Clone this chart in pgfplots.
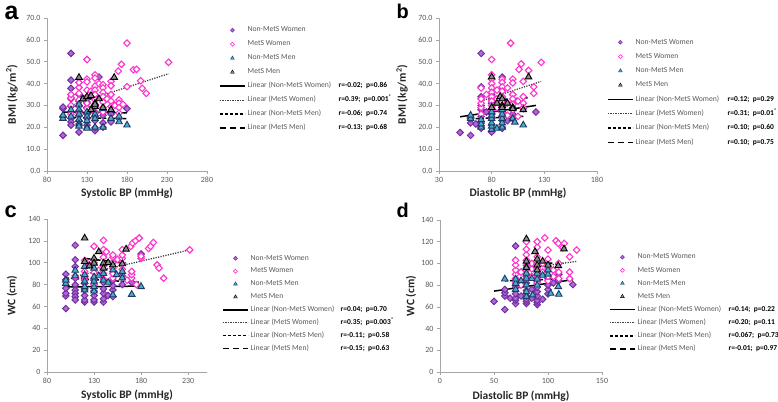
\documentclass[border=0pt]{standalone}
\usepackage{pgfplots}
\pgfplotsset{compat=1.18}
\usepackage{fontspec}
\setmainfont{Carlito}
\newfontfamily\letterfont{Liberation Sans}

\definecolor{nmwfill}{HTML}{B366D9}
\definecolor{nmwdraw}{HTML}{7030A0}
\definecolor{mwdraw}{HTML}{FF33CC}
\definecolor{nmmfill}{HTML}{4BACC6}
\definecolor{nmmdraw}{HTML}{1F3864}
\definecolor{mmfill}{HTML}{8C8C8C}
\definecolor{axgray}{HTML}{A6A6A6}
\definecolor{txtgray}{HTML}{595959}

% legend line text followed by the r / p values
\newcommand\lin[3]{\makebox[#1][l]{#2}{\color{black}\fontsize{7.5}{8}\selectfont\bfseries #3}}

\pgfplotsset{
  panel/.style={
    scale only axis, anchor=south west, clip=false,
    axis x line=bottom, axis y line=left,
    axis line style={draw=axgray, line width=0.7bp, -},
    tick style={draw=axgray, line width=0.7bp},
    tick align=outside, major tick length=3bp,
    ticklabel style={font=\fontsize{8}{9}\selectfont, text=txtgray},
    /pgf/number format/assume math mode=true,
    legend cell align=left,
    legend style={draw=none, fill=none, inner xsep=0pt, inner ysep=0pt,
      anchor=north west, column sep=2bp, font=\fontsize{7.7}{9}\selectfont,
      nodes={inner sep=0pt, text height=5bp, text depth=1.5bp, text=txtgray}},
  },
  xlab/.style={every axis x label/.style={at={(axis description cs:0.5,#1)},
      anchor=center, font=\bfseries\fontsize{11.5}{13}\selectfont, text=black!85}},
  ylab/.style={every axis y label/.style={at={(axis description cs:#1,0.5)},
      rotate=90, anchor=center, font=\bfseries\fontsize{11.5}{13}\selectfont, text=black!85}},
  nmw/.style={only marks, mark=square*, mark size=2.3bp,
    mark options={rotate=45, fill=nmwfill, draw=nmwdraw, line width=1bp},
    legend image code/.code={\draw plot[only marks, mark=square*, mark size=1.4bp,
      mark options={rotate=45, fill=nmwfill, draw=nmwdraw, line width=0.5bp}] coordinates {(12.5bp,0bp)};}},
  mw/.style={only marks, mark=square*, mark size=2.3bp,
    mark options={rotate=45, fill=white, draw=mwdraw, line width=1.1bp},
    legend image code/.code={\draw plot[only marks, mark=square*, mark size=1.4bp,
      mark options={rotate=45, fill=white, draw=mwdraw, line width=0.6bp}] coordinates {(12.5bp,0bp)};}},
  nmm/.style={only marks, mark=triangle*, mark size=3.8bp,
    mark options={fill=nmmfill, draw=nmmdraw, line width=0.9bp},
    legend image code/.code={\draw plot[only marks, mark=triangle*, mark size=2.2bp,
      mark options={fill=nmmfill, draw=nmmdraw, line width=0.4bp}] coordinates {(12.5bp,0bp)};}},
  mm/.style={only marks, mark=triangle*, mark size=3.8bp,
    mark options={fill=mmfill, draw=black, line width=0.9bp},
    legend image code/.code={\draw plot[only marks, mark=triangle*, mark size=2.2bp,
      mark options={fill=mmfill, draw=black, line width=0.4bp}] coordinates {(12.5bp,0bp)};}},
  trend/.style={legend image code/.code={\draw[##1] (0bp,0bp) -- (25bp,0bp);}},
  nmwline/.style={trend, black, line width=1.5bp},
  mwline/.style={trend, black!75, line width=1.3bp, dash pattern=on 1.2bp off 1.3bp},
  nmmline/.style={trend, black, line width=1.5bp, dash pattern=on 3.3bp off 1.7bp},
  mmline/.style={trend, black, line width=1.5bp, dash pattern=on 6bp off 4bp},
}

\begin{document}
\begin{tikzpicture}
\useasboundingbox (0,0) rectangle (778bp,402bp);

\node[anchor=base west, font=\letterfont\bfseries\fontsize{25}{25}\selectfont] at (1bp,382bp) {a};
\node[anchor=base west, font=\letterfont\bfseries\fontsize{20}{20}\selectfont] at (393bp,383bp) {b};
\node[anchor=base west, font=\letterfont\bfseries\fontsize{22}{22}\selectfont] at (1bp,184bp) {c};
\node[anchor=base west, font=\letterfont\bfseries\fontsize{20}{20}\selectfont] at (393bp,184bp) {d};

% ---------------- a: systolic BP vs BMI
\begin{axis}[panel, at={(47bp,231bp)}, width=160bp, height=153bp,
  xmin=80, xmax=280, xtick={80,130,180,230,280},
  ymin=0, ymax=70, ytick={0,10,...,70},
  yticklabel style={/pgf/number format/.cd, fixed, fixed zerofill, precision=1},
  xlab=-0.144, ylab=-0.219,
  xlabel={Systolic BP (mmHg)}, ylabel={BMI (kg/m\textsuperscript{2})},
  legend style={at={(1.075,0.943)}, row sep=7.5bp}]
\addplot[nmw] coordinates {
  (100,16.3) (100,25) (100,28.5) (100,29.2) (110,53.8) (110,41.6) (110,37.8)
  (110,33) (110,29.5) (110,27) (110,24) (110,22.5) (110,21) (120,17.8)
  (120,21.5) (120,23) (120,25.5) (120,27.5) (120,30) (120,32) (120,35)
  (130,21) (130,24) (130,26) (130,29) (130,31.5) (130,33) (140,18.5)
  (140,19.8) (140,23) (140,25) (140,27) (140,30) (145,43) (150,20) (150,22)
  (150,25.5) (150,28) (160,22.5) (160,26) (170,24) (180,28.5)};
\addlegendentry{Non-MetS Women}
\addplot[mw] coordinates {
  (110,26) (110,30) (110,33.5) (110,35) (120,26.5) (120,29.5) (120,32.5)
  (120,35.5) (120,38.2) (120,40.5) (130,51) (130,42) (130,40.8) (130,37)
  (130,34) (130,31) (130,28.5) (135,36.5) (140,44) (140,42.5) (140,38.8)
  (140,37) (140,35) (140,32.5) (140,30.5) (140,26.5) (145,40) (150,39.5)
  (150,38) (150,36) (150,34) (150,31.5) (150,29) (150,27) (155,33) (160,41)
  (160,39) (160,35) (160,32) (160,29.5) (165,30) (170,32.5) (170,31) (170,29)
  (170,26.5) (173,48.8) (169,45.7) (175,30.5) (180,58.5) (180,38.6)
  (188,46.3) (192,46.5) (197,41.3) (199,37.8) (204,35.5) (232,49.7)};
\addlegendentry{MetS Women}
\addplot[nmm] coordinates {
  (100,24) (100,25.5) (110,28) (110,25) (120,30.5) (120,28) (120,26)
  (120,23.5) (120,21.5) (120,20.5) (130,27) (130,25) (130,23) (130,20)
  (130,19.5) (140,26) (140,24) (140,20) (150,28.5) (150,20) (160,28)
  (160,24) (170,25) (170,22.5) (180,21)};
\addlegendentry{Non-MetS Men}
\addplot[mm] coordinates {
  (120,42.8) (164,42.8) (125,33) (130,34) (135,34.5) (140,31) (140,29.5)
  (140,30.5) (150,29) (160,28) (135,28) (145,33)};
\addlegendentry{MetS Men}
\addplot[nmwline] coordinates {(100,27.0) (180,26.6)};
\addlegendentry{\lin{91bp}{Linear (Non-MetS Women)}{r=-0.02;\ \ p=0.86}}
\addplot[mwline] coordinates {(110,30) (232,44.5)};
\addlegendentry{\lin{91bp}{Linear (MetS Women)}{r=0.39;\ \ p=0.001\textsuperscript{*}}}
\addplot[nmmline] coordinates {(100,24.6) (180,23.9)};
\addlegendentry{\lin{91bp}{Linear (Non-MetS Men)}{r=-0.06;\ \ p=0.74}}
\addplot[mmline] coordinates {(120,34) (165,31.5)};
\addlegendentry{\lin{91bp}{Linear (MetS Men)}{r=-0.13;\ \ p=0.68}}
\end{axis}

% ---------------- b: diastolic BP vs BMI
\begin{axis}[panel, at={(439bp,231bp)}, width=158bp, height=153bp,
  xmin=30, xmax=180, xtick={30,80,130,180},
  ymin=0, ymax=70, ytick={0,10,...,70},
  yticklabel style={/pgf/number format/.cd, fixed, fixed zerofill, precision=1},
  xlab=-0.144, ylab=-0.234,
  xlabel={Diastolic BP (mmHg)}, ylabel={BMI (kg/m\textsuperscript{2})},
  legend style={at={(1.063,0.864)}, row sep=7.8bp}]
\addplot[nmw] coordinates {
  (50,17.6) (60,16.3) (60,22) (60,24) (65,21.5) (70,53.8) (70,38.5) (70,34)
  (70,30) (70,28) (70,25) (70,22) (70,20) (70,19.5) (75,27) (80,17.8)
  (80,21) (80,24) (80,26) (80,28.5) (80,31) (80,33) (80,35) (85,32) (90,43)
  (90,38) (90,34) (90,30) (90,27) (90,25) (90,23) (90,20) (90,19.5) (95,23)
  (100,24) (100,26) (100,29) (100,31) (110,28.5) (122,27)};
\addlegendentry{Non-MetS Women}
\addplot[mw] coordinates {
  (70,26) (70,29) (70,31) (70,33) (70,38) (75,35) (80,51) (80,44) (80,42)
  (80,40) (80,38) (80,36) (80,34) (80,32) (80,30) (80,28) (85,37) (85,33)
  (85,29) (90,42) (90,40.5) (90,38.5) (90,36.5) (90,34) (90,31.5) (90,29)
  (90,27) (95,38) (95,31) (95,25.5) (98,58.5) (100,42) (100,40.3) (100,35)
  (100,33) (100,30.5) (100,28) (105,32) (105,25) (106,46.5) (108,49)
  (110,41) (110,34) (110,31) (110,29) (115,46) (120,38.5) (120,35.5)
  (127,49.7)};
\addlegendentry{MetS Women}
\addplot[nmm] coordinates {
  (60,24) (60,25.5) (70,20) (70,21.5) (70,23.5) (80,19) (80,20.5) (80,22)
  (80,24) (80,25.5) (80,27) (80,29) (85,19.5) (90,20) (90,22) (90,24)
  (90,26) (90,28) (100,24) (100,29) (102,22.3) (110,21)};
\addlegendentry{Non-MetS Men}
\addplot[mm] coordinates {
  (80,43) (115,43) (80,29) (85,31) (88,34) (90,33) (90,30) (90,29) (95,31)
  (100,29) (100,28.5) (110,28)};
\addlegendentry{MetS Men}
\addplot[nmwline] coordinates {(50,24.8) (122,30)};
\addlegendentry{\lin{92bp}{Linear (Non-MetS Women)}{r=0.12;\ \ p=0.29}}
\addplot[mwline] coordinates {(70,32) (127,41)};
\addlegendentry{\lin{92bp}{Linear (MetS Women)}{r=0.31;\ \ p=0.01\textsuperscript{*}}}
\addplot[nmmline] coordinates {(60,23.8) (110,25)};
\addlegendentry{\lin{92bp}{Linear (Non-MetS Men)}{r=0.10;\ \ p=0.60}}
\addplot[mmline] coordinates {(80,32.5) (115,33.5)};
\addlegendentry{\lin{92bp}{Linear (MetS Men)}{r=0.10;\ \ p=0.75}}
\end{axis}

% ---------------- c: systolic BP vs WC
\begin{axis}[panel, at={(47bp,30bp)}, width=160bp, height=153bp,
  xmin=80, xmax=250, xtick={80,130,180,230},
  ymin=0, ymax=140, ytick={0,20,...,140},
  xlab=-0.150, ylab=-0.219,
  xlabel={Systolic BP (mmHg)}, ylabel={WC (cm)},
  legend style={at={(1.094,0.766)}, row sep=6.4bp}]
\addplot[nmw] coordinates {
  (100,58) (100,69.6) (100,72) (100,76.6) (100,84.3) (100,89.5) (110,116)
  (110,102.7) (110,96.5) (110,85.8) (110,79.7) (110,75) (110,72) (110,69)
  (110,66) (120,64) (120,66) (120,70) (120,75) (120,81) (120,86) (130,64)
  (130,66) (130,70) (130,74) (130,80) (130,84) (140,64) (140,67) (140,72)
  (140,76) (140,82) (145,70) (150,69) (150,75) (150,79) (150,84) (160,80)
  (160,88) (170,82) (180,108)};
\addlegendentry{Non-MetS Women}
\addplot[mw] coordinates {
  (110,88) (120,84) (120,88) (120,92) (120,102) (125,98) (130,80) (130,86)
  (130,91) (130,100) (130,115) (135,93) (140,85) (140,90) (140,97) (140,105)
  (140,112) (143,110) (140,120.4) (150,86) (150,90) (150,95) (150,100)
  (150,105) (150,107) (155,103) (160,94) (160,99) (160,104) (160,107)
  (160,112) (165,84) (169,115) (170,86) (170,89) (170,92) (171,118)
  (174,120) (175,80) (178,122.6) (180,104) (180,106) (188,113) (190,115)
  (193,118.5) (197,98) (199,95) (204,85.8) (231.6,111.8)};
\addlegendentry{MetS Women}
\addplot[nmm] coordinates {
  (100,81) (100,84) (110,88) (110,93) (120,75) (120,78) (120,83) (120,89)
  (120,96.5) (130,74) (130,78) (130,83) (130,87) (130,95) (135,88) (140,84)
  (140,90) (145,82) (150,70.5) (150,93.4) (154,89) (160,86) (160,92)
  (170,71) (180,78)};
\addlegendentry{Non-MetS Men}
\addplot[mm] coordinates {
  (120,122.5) (135,110) (164,112.4) (130,104) (130,99.6) (140,99.6) (140,95)
  (150,98) (160,99) (120,101) (125,97) (145,100)};
\addlegendentry{MetS Men}
\addplot[nmwline] coordinates {(100,77.8) (180,78.6)};
\addlegendentry{\lin{90bp}{Linear (Non-MetS Women)}{r=0.04;\ \ p=0.70}}
\addplot[mwline] coordinates {(110,87.5) (232,111.8)};
\addlegendentry{\lin{90bp}{Linear (MetS Women)}{r=0.35;\ \ p=0.003\textsuperscript{*}}}
\addplot[nmmline] coordinates {(100,86) (180,82)};
\addlegendentry{\lin{90bp}{Linear (Non-MetS Men)}{r=-0.11;\ \ p=0.58}}
\addplot[mmline] coordinates {(120,104) (164,99.5)};
\addlegendentry{\lin{90bp}{Linear (MetS Men)}{r=-0.15;\ \ p=0.63}}
\end{axis}

% ---------------- d: diastolic BP vs WC
\begin{axis}[panel, at={(440bp,30bp)}, width=162bp, height=152bp,
  xmin=0, xmax=150, xtick={0,50,100,150},
  ymin=0, ymax=140, ytick={0,20,...,140},
  xlab=-0.158, ylab=-0.179,
  xlabel={Diastolic BP (mmHg)}, ylabel={WC (cm)},
  legend style={at={(1.043,0.778)}, row sep=6.6bp}]
\addplot[nmw] coordinates {
  (50,65) (60,57.5) (60,70) (60,73) (60,76) (65,68) (70,116) (70,63) (70,66)
  (70,68) (70,72) (70,78) (75,70) (80,63) (80,65) (80,67) (80,70) (80,75)
  (80,82) (80,88) (85,68) (85,76) (90,62) (90,64) (90,66) (90,70) (90,74)
  (90,78) (90,84) (90,88) (95,67) (100,72) (100,76) (100,80) (100,86)
  (105,82) (110,84) (110,90) (123,80.5)};
\addlegendentry{Non-MetS Women}
\addplot[mw] coordinates {
  (70,82) (70,86) (70,90) (70,94) (70,98.5) (70,103) (75,80) (75,92) (80,86)
  (80,90) (80,94) (80,98) (80,103) (80,108) (80,113) (80,120) (85,88)
  (85,95) (85,100) (90,82) (90,86) (90,90) (90,95) (90,100) (90,106)
  (90,115) (90,120) (95,92) (95,100) (97,123.5) (100,84) (100,88) (100,95)
  (100,104) (100,112.3) (105,88) (105,94) (107.5,120.8) (109.5,118.5)
  (110,86) (110,92) (110,100) (113.6,114.5) (115,118.5) (120,86) (120,92)
  (120,106.2) (126.5,112.3)};
\addlegendentry{MetS Women}
\addplot[nmm] coordinates {
  (60,85.6) (70,76) (70,81.6) (70,85.6) (75,84) (80,69.5) (80,74) (80,80.2)
  (80,86.3) (80,90.9) (80,97) (85,86) (85.8,70.9) (90,80) (90,85.6)
  (90,90.9) (95,89) (100,90) (100,94) (102.5,72.4) (109.5,78.6) (110,71.5)};
\addlegendentry{Non-MetS Men}
\addplot[mm] coordinates {
  (80,122.5) (88,110.8) (114.8,113.3) (90,104) (90,98.5) (90,94) (100,98.5)
  (109.5,97.9) (80,102) (80,96) (95,102)};
\addlegendentry{MetS Men}
\addplot[nmwline] coordinates {(50,74.5) (123,85)};
\addlegendentry{\lin{91bp}{Linear (Non-MetS Women)}{r=0.14;\ \ p=0.22}}
\addplot[mwline] coordinates {(70,94) (127,102)};
\addlegendentry{\lin{91bp}{Linear (MetS Women)}{r=0.20;\ \ p=0.11}}
\addplot[nmmline] coordinates {(60,84) (110,85.5)};
\addlegendentry{\lin{91bp}{Linear (Non-MetS Men)}{r=0.067;\ \ p=0.73}}
\addplot[mmline] coordinates {(80,100.5) (115,100.3)};
\addlegendentry{\lin{91bp}{Linear (MetS Men)}{r=-0.01;\ \ p=0.97}}
\end{axis}
\end{tikzpicture}
\end{document}
